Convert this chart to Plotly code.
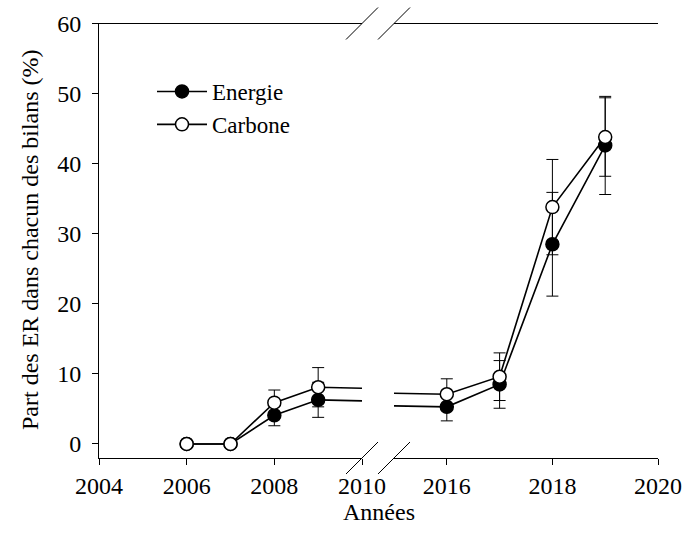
import plotly.graph_objects as go

# ---- data ----
years = [2006, 2007, 2008, 2009, 2016, 2017, 2018, 2019]
energie = [0.0, 0.0, 4.1, 6.3, 5.3, 8.5, 28.5, 42.6]
energie_err = [0.0, 0.0, 1.5, 2.5, 2.0, 3.4, 7.4, 7.0]
carbone = [0.0, 0.0, 5.9, 8.1, 7.1, 9.6, 33.8, 43.8]
carbone_err = [0.0, 0.0, 1.8, 2.8, 2.2, 3.4, 6.8, 5.6]

left_ticks = [2004, 2006, 2008, 2010]
right_ticks = [2016, 2018, 2020]
y_ticks = [0, 10, 20, 30, 40, 50, 60]

W, H = 695, 551
FONT = "Liberation Serif, Times New Roman, serif"

fig = go.Figure()

def series(name, y, err, fill, xa, show):
    return go.Scatter(
        x=years, y=y, name=name, mode="lines+markers",
        xaxis=xa, yaxis="y", showlegend=show, legendgroup=name,
        line=dict(color="black", width=1.6),
        marker=dict(size=13, color=fill, line=dict(color="black", width=1.5)),
        error_y=dict(type="data", array=err, visible=True, color="black",
                     thickness=1, width=6),
        cliponaxis=True,
    )

for xa in ["x", "x2"]:
    show = xa == "x"
    fig.add_trace(series("Energie", energie, energie_err, "black", xa, show))
    fig.add_trace(series("Carbone", carbone, carbone_err, "white", xa, show))

px = lambda v: v / W
py = lambda v: 1 - v / H

axis_common = dict(
    showline=True, linecolor="black", linewidth=1,
    ticks="outside", ticklen=6, tickcolor="black", tickwidth=1,
    showgrid=False, zeroline=False, automargin=False,
    tickfont=dict(family=FONT, size=24, color="black"),
)

fig.update_layout(
    width=W, height=H,
    margin=dict(l=0, r=0, t=0, b=0, autoexpand=False),
    paper_bgcolor="white", plot_bgcolor="white",
    font=dict(family=FONT, size=24, color="black"),
    xaxis=dict(domain=[px(99), px(362)], range=[2004, 2010],
               tickvals=left_ticks, mirror=True, anchor="y",
               ticklabelstandoff=0, **axis_common),
    xaxis2=dict(domain=[px(394), px(658)], range=[2015, 2020],
                tickvals=right_ticks, mirror=True, anchor="y2",
                ticklabelstandoff=0, **axis_common),
    yaxis=dict(domain=[py(458), py(23.5)], range=[-2, 60],
               tickvals=y_ticks, anchor="x", ticklabelstandoff=6,
               **axis_common),
    yaxis2=dict(domain=[py(458), py(23.5)], range=[-2, 60],
                matches="y", anchor="x2", side="right",
                showline=True, linecolor="black", linewidth=1,
                ticks="", showticklabels=False, showgrid=False,
                zeroline=False, automargin=False),
    legend=dict(x=px(152), y=py(70), xanchor="left", yanchor="top",
                bgcolor="rgba(0,0,0,0)", itemwidth=50, tracegroupgap=0,
                font=dict(family=FONT, size=23, color="black")),
    showlegend=True,
)

# axis break marks (paper-anchored, pixel-sized)
for xp in [362, 394]:
    for yp in [23.5, 458]:
        fig.add_shape(type="line", xref="paper", yref="paper",
                      xsizemode="pixel", ysizemode="pixel",
                      xanchor=px(xp), yanchor=py(yp),
                      x0=-16, x1=16, y0=-16, y1=16,
                      line=dict(color="black", width=1))

fig.add_annotation(text="Années", xref="paper", yref="paper",
                   x=px(378.5), y=py(512), xanchor="center", yanchor="middle",
                   showarrow=False,
                   font=dict(family=FONT, size=24, color="black"))
fig.add_annotation(text="Part des ER dans chacun des bilans (%)",
                   xref="paper", yref="paper", x=px(30), y=py(240),
                   xanchor="center", yanchor="middle",
                   textangle=-90, showarrow=False,
                   font=dict(family=FONT, size=24, color="black"))

fig.write_html("out.html")
